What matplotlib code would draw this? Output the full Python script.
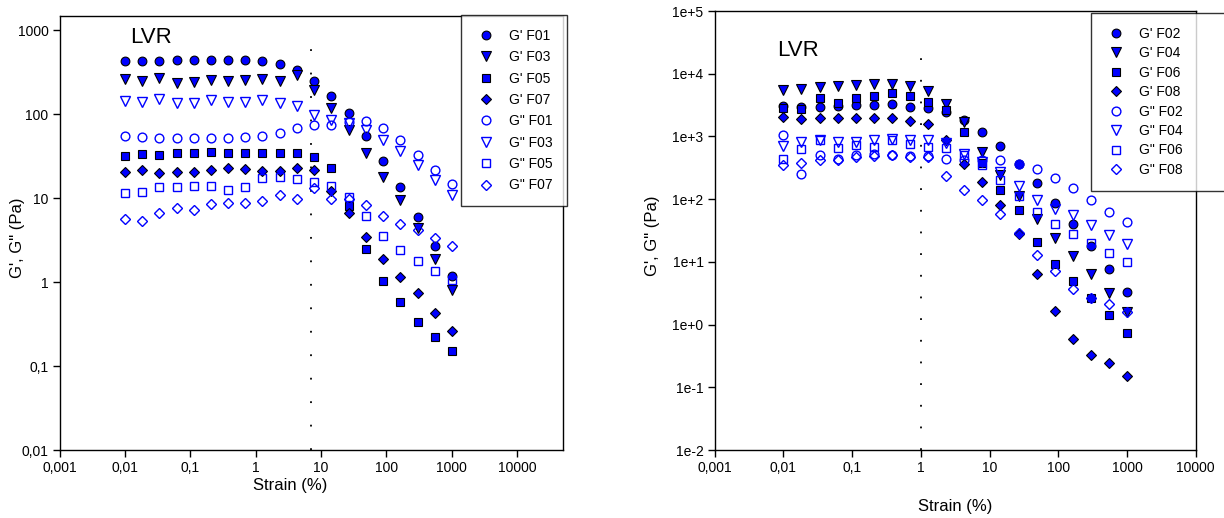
import numpy as np
import matplotlib.pyplot as plt

plt.rcParams['font.family'] = ['Liberation Sans', 'DejaVu Sans']

# strain sweep (%), same 20 points for every sample
strain = [0.01, 0.0183, 0.0336, 0.0616, 0.113, 0.207, 0.379, 0.695, 1.27, 2.34,
          4.28, 7.85, 14.4, 26.4, 48.3, 88.6, 162, 298, 546, 1000]

# left panel: odd samples
gp_f01 = [427, 438, 438, 447, 447, 447, 447, 447, 435, 400, 339, 250, 166, 104, 55, 28, 13.5, 6.0, 2.7, 1.2]
gp_f03 = [265, 251, 270, 235, 240, 258, 251, 258, 265, 251, 296, 196, 120, 66, 35, 18, 9.5, 4.4, 1.9, 0.81]
gp_f05 = [32, 33.6, 32.7, 34.9, 34.9, 35.8, 34.9, 34.9, 34.9, 34.3, 34.3, 30.7, 22.7, 8.0, 2.5, 1.02, 0.58, 0.34, 0.22, 0.153]
gp_f07 = [20.6, 21.7, 20.1, 20.6, 20.6, 21.7, 22.7, 22.1, 21.1, 21.1, 22.7, 21.7, 12.2, 6.7, 3.46, 1.89, 1.15, 0.74, 0.43, 0.265]
gpp_f01 = [55, 54, 53, 52, 52, 52, 52, 54, 55, 60, 68, 75, 75, 82, 84, 68, 49, 33, 22, 15]
gpp_f03 = [144.5, 142, 151, 138, 136, 149, 142, 142, 149, 136, 126, 98, 86, 78, 65, 50, 37, 25, 16.5, 10.9]
gpp_f05 = [11.5, 12.0, 13.5, 13.7, 13.9, 13.9, 12.5, 13.5, 17.4, 18.1, 16.8, 15.7, 14.0, 10.4, 6.1, 3.6, 2.45, 1.77, 1.35, 1.05]
gpp_f07 = [5.7, 5.4, 6.7, 7.6, 7.3, 8.5, 8.8, 8.9, 9.3, 10.9, 9.9, 13.1, 9.7, 9.7, 8.3, 6.1, 5.0, 4.2, 3.4, 2.7]

# right panel: even samples
gp_f02 = [3040, 2900, 2900, 3040, 3150, 3150, 3270, 2960, 2790, 2460, 1860, 1180, 697, 369, 181, 87, 40, 17.6, 7.8, 3.3]
gp_f04 = [5470, 5610, 6040, 6340, 6570, 6820, 6820, 6340, 5270, 3270, 1705, 565, 240, 111, 48.8, 24.3, 12.6, 6.5, 3.2, 1.57]
gp_f06 = [2790, 2690, 4030, 3430, 4030, 4390, 4840, 4390, 3560, 2620, 1180, 377, 142, 66, 20.6, 9.3, 4.9, 2.7, 1.43, 0.74]
gp_f08 = [2050, 1930, 2000, 2000, 2000, 2000, 2000, 1770, 1570, 870, 360, 188, 79.6, 27.4, 6.3, 1.67, 0.59, 0.33, 0.24, 0.153]
gpp_f02 = [1045, 255, 501, 444, 501, 520, 501, 483, 483, 444, 420, 420, 428, 360, 303, 215, 151, 98, 63, 43]
gpp_f04 = [697, 817, 892, 817, 817, 870, 925, 892, 892, 779, 520, 387, 271, 160, 98, 70, 55, 38, 26.4, 19]
gpp_f06 = [444, 641, 870, 665, 723, 680, 892, 750, 680, 648, 501, 347, 200, 111, 62, 40.6, 27.4, 19.9, 13.8, 9.8]
gpp_f08 = [347, 377, 417, 417, 471, 483, 501, 471, 471, 231, 142, 98, 58.7, 28.4, 13.1, 7.1, 3.7, 2.7, 2.09, 1.57]

left_labels = ["G' F01", "G' F03", "G' F05", "G' F07", 'G" F01', 'G" F03', 'G" F05', 'G" F07']
left_data = [gp_f01, gp_f03, gp_f05, gp_f07, gpp_f01, gpp_f03, gpp_f05, gpp_f07]
right_labels = ["G' F02", "G' F04", "G' F06", "G' F08", 'G" F02', 'G" F04', 'G" F06', 'G" F08']
right_data = [gp_f02, gp_f04, gp_f06, gp_f08, gpp_f02, gpp_f04, gpp_f06, gpp_f08]

x_ticks = [0.001, 0.01, 0.1, 1, 10, 100, 1000, 10000]
x_ticklabels = ['0,001', '0,01', '0,1', '1', '10', '100', '1000', '10000']
left_yticks = [0.01, 0.1, 1, 10, 100, 1000]
left_yticklabels = ['0,01', '0,1', '1', '10', '100', '1000']
right_yticks = [1e-2, 1e-1, 1e0, 1e1, 1e2, 1e3, 1e4, 1e5]
right_yticklabels = ['1e-2', '1e-1', '1e+0', '1e+1', '1e+2', '1e+3', '1e+4', '1e+5']

lvr_left = 7.0   # end of linear viscoelastic region
lvr_right = 1.0

blue = '#0000ff'
markers = ['o', 'v', 's', 'D', 'o', 'v', 's', 'D']
sizes = {'o': 6.3, 'v': 6.8, 's': 5.6, 'D': 5.0}

W, H = 1224, 518
fig = plt.figure(figsize=(W / 100, H / 100), dpi=100)
ax1 = fig.add_axes([59.5 / W, 68 / H, 503.5 / W, 434.3 / H])
ax2 = fig.add_axes([714.7 / W, 68 / H, 481 / W, 439 / H])


def draw(ax, labels, data):
    for i, (lab, vals) in enumerate(zip(labels, data)):
        m = markers[i]
        if i < 4:
            ax.plot(strain, vals, linestyle='none', marker=m, ms=sizes[m],
                    mfc=blue, mec='black', mew=0.8, label=lab)
        else:
            ax.plot(strain, vals, linestyle='none', marker=m, ms=sizes[m],
                    mfc='none', mec=blue, mew=1.0, label=lab)
    ax.set_xscale('log')
    ax.set_yscale('log')
    ax.set_xticks(x_ticks)
    ax.set_xticklabels(x_ticklabels)
    ax.minorticks_off()
    ax.tick_params(direction='out', length=5, width=1, labelsize=10, pad=3)
    for s in ax.spines.values():
        s.set_linewidth(1.0)
    ax.set_xlabel('Strain (%)', fontsize=12)
    ax.set_ylabel('G\', G" (Pa)', fontsize=12)


draw(ax1, left_labels, left_data)
ax1.set_xlim(0.001, 5e4)
ax1.set_ylim(0.01, 1500)
ax1.set_yticks(left_yticks)
ax1.set_yticklabels(left_yticklabels)
ax1.minorticks_off()
ax1.plot([lvr_left, lvr_left], [0.01, 800], color='black', lw=1.3,
         linestyle=(0, (1, 12)), zorder=1)
ax1.xaxis.set_label_coords(0.458, -0.064)
ax1.yaxis.set_label_coords(-0.0685, 0.488)
fig.text(130 / W, 1 - 43 / H, 'LVR', fontsize=16, va='baseline')
ax1.legend(loc='upper right', bbox_to_anchor=(567 / W, 1 - 15 / H),
           bbox_transform=fig.transFigure, fontsize=10, frameon=True,
           fancybox=False, edgecolor='black', numpoints=1, handlelength=1.6,
           handletextpad=0.86, borderpad=1.0, labelspacing=0.53,
           borderaxespad=0)

draw(ax2, right_labels, right_data)
ax2.set_xlim(0.001, 10000)
ax2.set_ylim(1e-2, 1e5)
ax2.set_yticks(right_yticks)
ax2.set_yticklabels(right_yticklabels)
ax2.minorticks_off()
ax2.plot([lvr_right, lvr_right], [0.01, 18000], color='black', lw=1.3,
         linestyle=(0, (1, 11)), zorder=1)
ax2.xaxis.set_label_coords(0.5, -0.111)
ax2.yaxis.set_label_coords(-0.114, 0.487)
fig.text(777 / W, 1 - 56 / H, 'LVR', fontsize=16, va='baseline')
# the right legend box runs past the figure edge
ax2.legend(loc='upper left', bbox_to_anchor=(1091 / W, 0, 160 / W, 1 - 13 / H),
           bbox_transform=fig.transFigure, mode='expand', fontsize=10,
           frameon=True, fancybox=False, edgecolor='black', numpoints=1,
           handlelength=1.6, handletextpad=0.86, borderpad=1.0,
           labelspacing=0.39, borderaxespad=0)

fig.savefig('out.png', dpi=100)
